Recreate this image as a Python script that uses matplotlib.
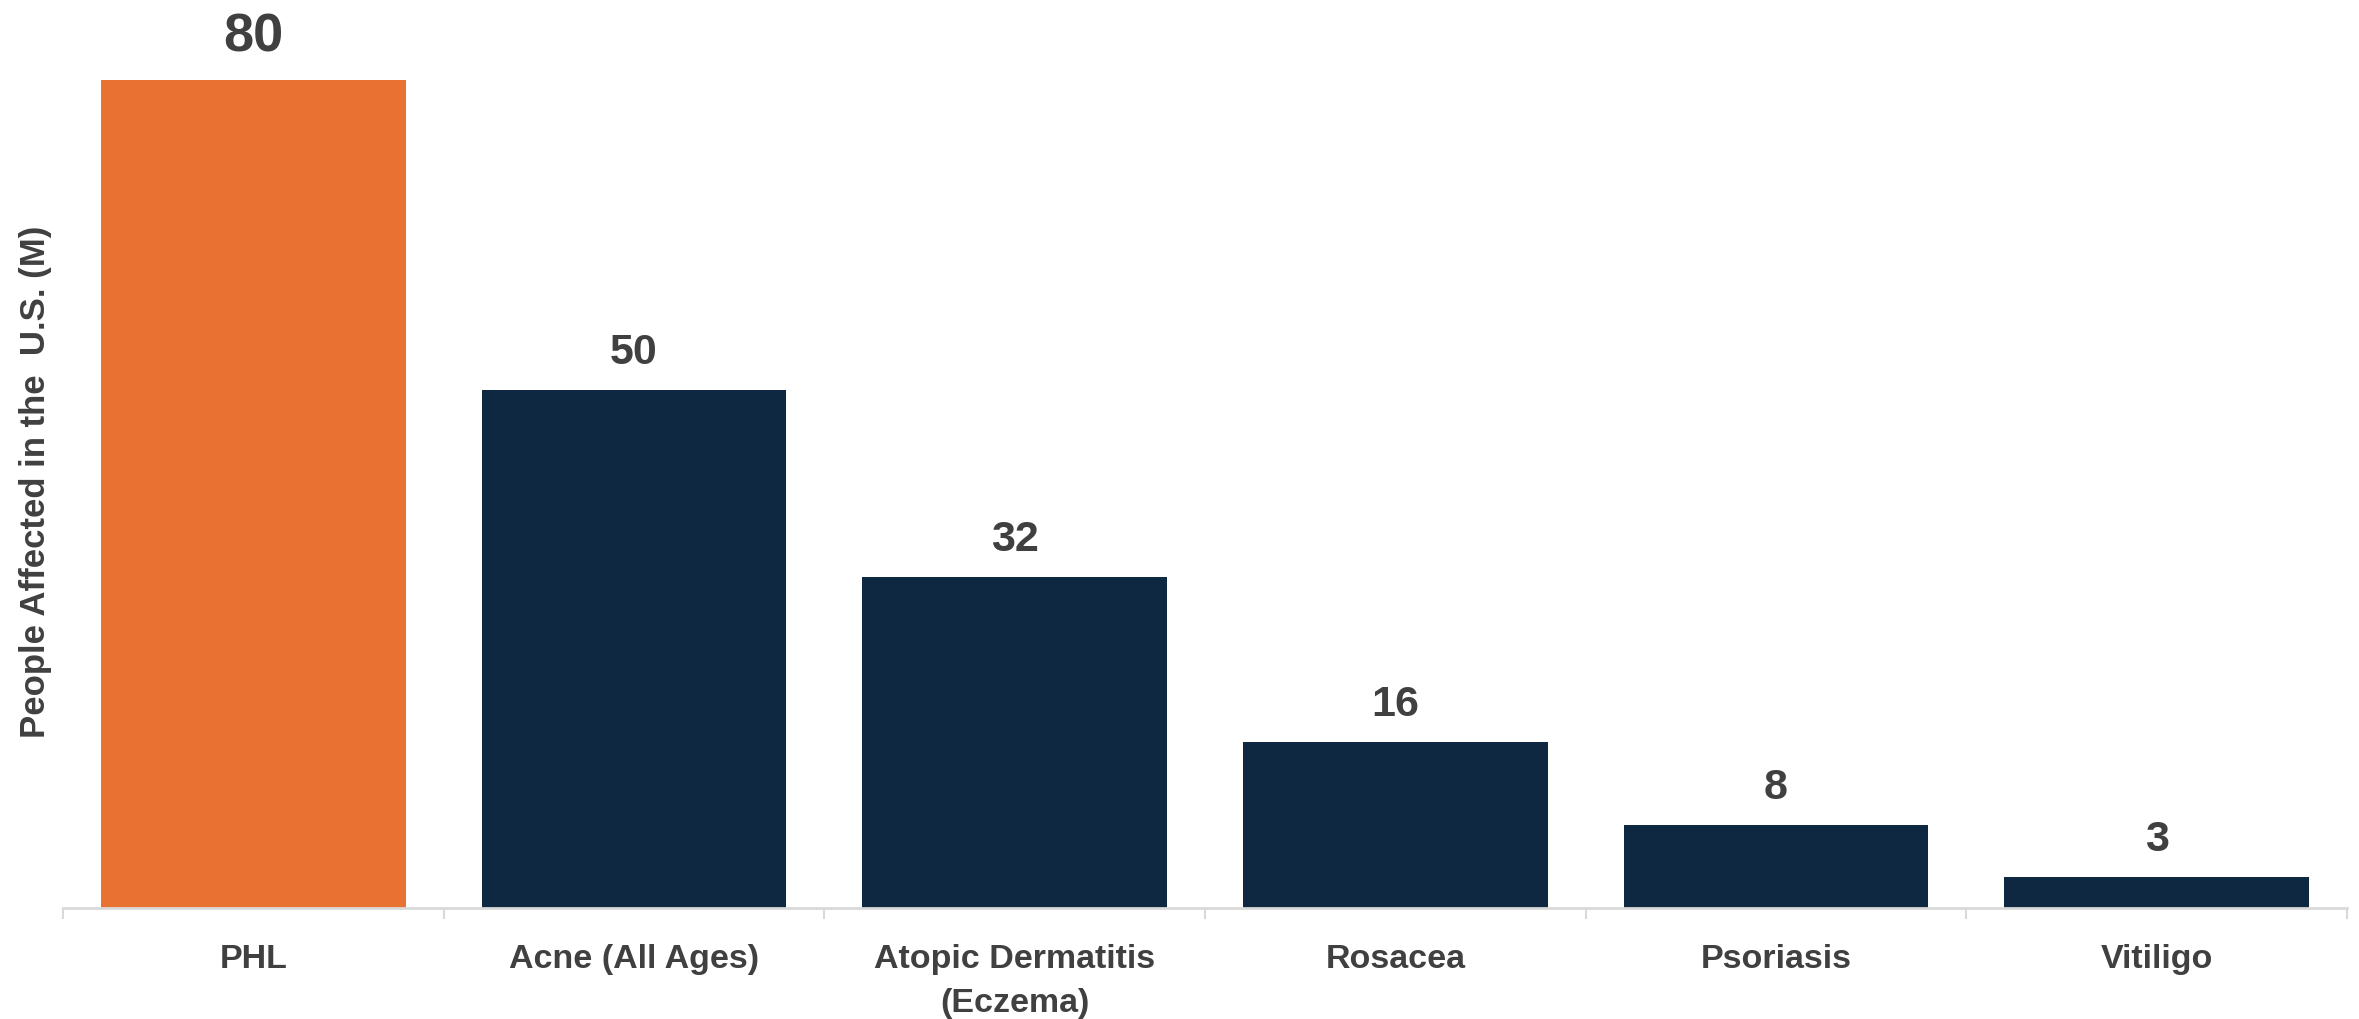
import matplotlib
matplotlib.use("Agg")
import matplotlib.pyplot as plt
import numpy as np

# Данные: число людей в США (млн) по заболеваниям кожи
categories = ["PHL", "Acne (All Ages)", "Atopic Dermatitis\n(Eczema)", "Rosacea", "Psoriasis", "Vitiligo"]
values = [80, 50, 32, 16, 8, 3]
highlight = "PHL"

orange = "#E97132"
navy = "#0F2841"
text_gray = "#404040"
axis_gray = "#D9D9D9"

plt.rcParams["font.family"] = "Liberation Sans"

fig = plt.figure(figsize=(23.59, 10.20), dpi=100)
ax = fig.add_axes([0.0267, 0.1088, 0.9682, 0.8912])

x = np.arange(len(categories))
colors = [orange if c == highlight else navy for c in categories]
bars = ax.bar(x, values, width=0.8, color=colors)

ax.set_xlim(-0.5, len(categories) - 0.5)
ax.set_ylim(0, 87.8)

# Подписи значений над столбцами (первая крупнее)
for b, v in zip(bars, values):
    size = 39 if v == max(values) else 31
    ax.annotate(str(v), (b.get_x() + b.get_width() / 2, v),
                xytext=(0, 13), textcoords="offset points",
                ha="center", va="bottom", fontsize=size, fontweight="bold",
                color=text_gray)

# Ось X: только нижняя линия и засечки между категориями
for side in ["top", "right", "left"]:
    ax.spines[side].set_visible(False)
ax.spines["bottom"].set_color(axis_gray)
ax.spines["bottom"].set_linewidth(2)
ax.set_yticks([])
ax.set_xticks(x)
ax.set_xticklabels(categories, fontsize=24.5, fontweight="bold", color=text_gray,
                   linespacing=1.55)
ax.tick_params(axis="x", which="major", length=0, pad=25)
ax.set_xticks(np.arange(-0.5, len(categories)), minor=True)
ax.tick_params(axis="x", which="minor", length=8, width=1.5, color=axis_gray)

ax.set_ylabel("People Affected in the  U.S. (M)", fontsize=25, fontweight="bold",
              color=text_gray)
ax.yaxis.set_label_coords(-0.005, 0.47)

fig.savefig("out.png", dpi=100)
